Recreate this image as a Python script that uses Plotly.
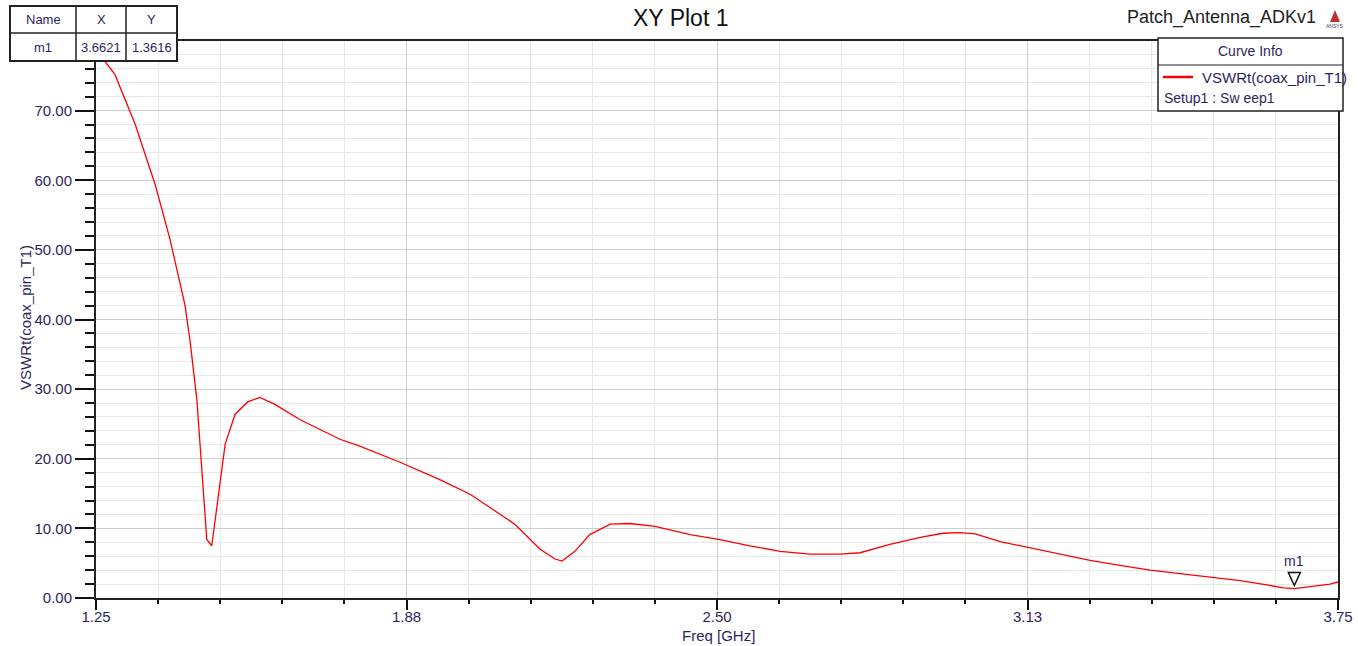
import plotly.graph_objects as go

# ---- data ----
freq_ghz = [1.25, 1.258, 1.288, 1.329, 1.369, 1.399, 1.429, 1.439, 1.453, 1.465, 1.473, 1.483,
            1.496, 1.510, 1.530, 1.556, 1.580, 1.610, 1.661, 1.741, 1.781, 1.862, 1.942, 2.003,
            2.043, 2.093, 2.144, 2.174, 2.188, 2.214, 2.244, 2.285, 2.325, 2.375, 2.446, 2.506,
            2.566, 2.627, 2.687, 2.748, 2.788, 2.848, 2.909, 2.955, 2.990, 3.020, 3.070, 3.130,
            3.190, 3.251, 3.311, 3.372, 3.432, 3.492, 3.553, 3.613, 3.640, 3.662, 3.694, 3.734, 3.75]
vswr = [80.5, 78.0, 75.2, 68.0, 59.4, 51.5, 42.1, 37.1, 28.5, 17.0, 8.4, 7.5,
        14.2, 22.1, 26.4, 28.2, 28.8, 27.8, 25.6, 22.8, 21.8, 19.5, 17.0, 14.9,
        13.0, 10.6, 7.0, 5.6, 5.3, 6.7, 9.1, 10.6, 10.7, 10.3, 9.1, 8.4,
        7.5, 6.7, 6.3, 6.3, 6.5, 7.7, 8.7, 9.3, 9.4, 9.2, 8.1, 7.2,
        6.4, 5.4, 4.7, 4.0, 3.5, 3.0, 2.5, 1.8, 1.45, 1.36, 1.6, 2.0, 2.3]

x_tickvals = [1.25, 1.875, 2.5, 3.125, 3.75]
x_ticktext = ["1.25", "1.88", "2.50", "3.13", "3.75"]
y_tickvals = [0, 10, 20, 30, 40, 50, 60, 70]

marker_name = "m1"
marker_x = 3.6621
marker_y = 1.3616

trace_name = "VSWRt(coax_pin_T1)"
sweep_name = "Setup1 : Sw eep1"

# ---- layout helpers (pixel -> paper) ----
W, H = 1358, 646
L, R, T, B = 96, 20, 41, 48
PW, PH = W - L - R, H - T - B


def px(x):
    return (x - L) / PW


def py(y):
    return (H - B - y) / PH


FONT = "Liberation Sans Narrow, Arial Narrow, Liberation Sans, Arial, sans-serif"
TXT = "#2e1f5e"

fig = go.Figure()
fig.add_trace(go.Scatter(x=freq_ghz, y=vswr, mode="lines",
                         line=dict(color="#ff0000", width=1.3),
                         showlegend=False, hoverinfo="x+y"))

fig.update_layout(
    width=W, height=H,
    margin=dict(l=L, r=R, t=T, b=B, autoexpand=False),
    paper_bgcolor="white", plot_bgcolor="white",
    font=dict(family=FONT, size=15, color=TXT),
    showlegend=False,
    xaxis=dict(range=[1.25, 3.75], tickmode="array", tickvals=x_tickvals, ticktext=x_ticktext,
               automargin=False, ticklabelstandoff=-6,
               showgrid=True, gridcolor="#cfcfcf", gridwidth=1.2,
               ticks="outside", ticklen=10, tickwidth=1.5, tickcolor="#111",
               showline=True, linecolor="#222", linewidth=2, mirror=True, zeroline=False,
               tickfont=dict(size=15, color=TXT),
               minor=dict(dtick=0.125, tick0=1.25, showgrid=True, gridcolor="#e8e8e8",
                          gridwidth=1.2, ticks="outside", ticklen=4, tickcolor="#111")),
    yaxis=dict(range=[0, 80], tickmode="array", tickvals=y_tickvals, tickformat=".2f",
               automargin=False,
               showgrid=True, gridcolor="#cfcfcf", gridwidth=1.2,
               ticks="outside", ticklen=19, tickwidth=1.5, tickcolor="#111",
               showline=True, linecolor="#222", linewidth=2, mirror=True, zeroline=False,
               tickfont=dict(size=15, color=TXT),
               minor=dict(dtick=2, tick0=0, showgrid=True, gridcolor="#e8e8e8", gridwidth=1.2,
                          ticks="outside", ticklen=9, tickcolor="#111")),
)

annotations = []
shapes = []


def label(text, x, y, size=15, color=TXT, xanchor="center", angle=0):
    annotations.append(dict(text=text, x=px(x), y=py(y), xref="paper", yref="paper",
                            xanchor=xanchor, yanchor="middle", textangle=angle,
                            showarrow=False, font=dict(size=size, color=color, family=FONT)))


# title and project name
label("XY Plot 1", 680, 18, size=23, color="#111")
label("Patch_Antenna_ADKv1", 1318, 18, size=18, color="#222", xanchor="right")
label("ANSYS", 1335, 26, size=5, color="#444")
shapes.append(dict(type="path", xref="paper", yref="paper",
                   path=f"M {px(1330)} {py(22)} L {px(1335)} {py(10)} L {px(1340)} {py(22)} Z",
                   fillcolor="#c03030", line=dict(width=0)))

# axis titles
label("VSWRt(coax_pin_T1)", 25, 318, angle=-90)
label("Freq [GHz]", 718, 635)

# marker table
tx0, tx1, tx2, tx3 = 10, 76, 126, 177
ty0, ty1, ty2 = 6, 33, 61
shapes.append(dict(type="rect", xref="paper", yref="paper", x0=px(tx0), x1=px(tx3), y0=py(ty0), y1=py(ty2),
                   fillcolor="white", line=dict(color="#222", width=2)))
for xv in (tx1, tx2):
    shapes.append(dict(type="line", xref="paper", yref="paper", x0=px(xv), x1=px(xv), y0=py(ty0), y1=py(ty2),
                       line=dict(color="#222", width=1.5)))
shapes.append(dict(type="line", xref="paper", yref="paper", x0=px(tx0), x1=px(tx3), y0=py(ty1), y1=py(ty1),
                   line=dict(color="#222", width=1.5)))
cells = [("Name", (tx0 + tx1) / 2, (ty0 + ty1) / 2), ("X", (tx1 + tx2) / 2, (ty0 + ty1) / 2),
         ("Y", (tx2 + tx3) / 2, (ty0 + ty1) / 2), (marker_name, (tx0 + tx1) / 2, (ty1 + ty2) / 2),
         (f"{marker_x:.4f}", (tx1 + tx2) / 2, (ty1 + ty2) / 2), (f"{marker_y:.4f}", (tx2 + tx3) / 2, (ty1 + ty2) / 2)]
for t, cx, cy in cells:
    label(t, cx, cy, size=13)

# curve info box
bx0, bx1, by0, by1, by2 = 1158, 1343, 38, 65, 111
shapes.append(dict(type="rect", xref="paper", yref="paper", x0=px(bx0), x1=px(bx1), y0=py(by0), y1=py(by2),
                   fillcolor="white", line=dict(color="#222", width=1.5)))
shapes.append(dict(type="line", xref="paper", yref="paper", x0=px(bx0), x1=px(bx1), y0=py(by1), y1=py(by1),
                   line=dict(color="#222", width=1.2)))
shapes.append(dict(type="line", xref="paper", yref="paper", x0=px(1163), x1=px(1193), y0=py(77), y1=py(77),
                   line=dict(color="#ff0000", width=2.5)))
label("Curve Info", 1250, 51, size=14)
label(trace_name, 1200, 77, size=15, xanchor="left")
label(sweep_name, 1162, 98, size=14, xanchor="left")

# marker m1
shapes.append(dict(type="path", xref="x", yref="y", xsizemode="pixel", ysizemode="pixel",
                   xanchor=marker_x, yanchor=marker_y,
                   path="M -6 16 L 6 16 L 0 3 Z", fillcolor="rgba(0,0,0,0)",
                   line=dict(color="#111", width=1.5)))
annotations.append(dict(text=marker_name, x=marker_x, y=marker_y, xref="x", yref="y", yshift=28,
                        xanchor="center", yanchor="middle",
                        showarrow=False, font=dict(size=14, color=TXT)))

fig.update_layout(shapes=shapes, annotations=annotations)
fig.write_html("out.html", config={"displayModeBar": False},
               post_script="document.body.style.margin='0px';document.body.style.overflow='hidden';")
